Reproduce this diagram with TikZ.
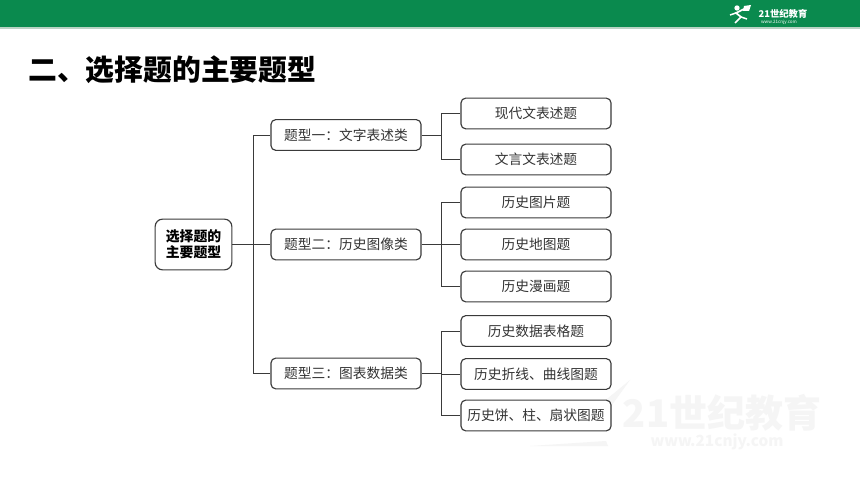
\documentclass[tikz,border=0pt]{standalone}
\usepackage{fontspec}
\setmainfont{Noto Sans CJK SC}
\definecolor{barGreen}{HTML}{0A8A4E}
\definecolor{barLine}{HTML}{B9D3C4}
\definecolor{markGray}{HTML}{F5F5F5}
\definecolor{boxLine}{HTML}{3A3A3A}
\tikzset{
    rootbox/.style={draw=boxLine, line width=0.85pt, rounded corners=5.5pt, fill=white, minimum width=57.5pt, minimum height=38pt, align=center, font=\fontsize{10.4}{12}\selectfont\bfseries, inner sep=0pt},
    typebox/.style={draw=boxLine, line width=0.85pt, rounded corners=3.5pt, fill=white, minimum width=112.5pt, minimum height=23pt, inner sep=0pt, font=\fontsize{10.3}{12}\selectfont, text=black!80},
    link/.style={draw=boxLine, line width=0.7pt}
}
\begin{document}
\begin{tikzpicture}[x=0.75pt, y=-0.75pt]
        \useasboundingbox (0,0) rectangle (860,484);
        \fill[white] (0,0) rectangle (860,484);
        \fill[barGreen] (0,0) rectangle (860,27);
        \fill[barLine] (0,27) rectangle (860,29);

        % logo in the bar
        \fill[white] (737,8) circle (2pt);
        \fill[white] (744,6) -- (751,5) -- (749,11) -- (743,11) -- cycle;
        \draw[white, line width=1.3pt] (744,9) -- (736,13) -- (741,17) -- (735,23);
        \draw[white, line width=1.1pt] (736,13) -- (730,15);
        \draw[white, line width=1.1pt] (741,17) -- (747,19);
        \node (logotext) at (783,14) [text=white, font=\fontsize{7}{7}\selectfont\bfseries\itshape, inner sep=0pt] {21世纪教育};
        \node (logoweb) at (779,22.5) [text=white, font=\fontsize{3.4}{4}\selectfont, inner sep=0pt] {www.21cnjy.com};

        % watermark
        \fill[markGray] (630,380) -- (596,408) -- (604,416) -- cycle;
        \fill[markGray] (530,446) -- (606,441) -- (608,446) -- cycle;
        \node (marktext) at (722,413) [text=markGray, font=\fontsize{28.5}{28}\selectfont\bfseries\itshape, inner sep=0pt] {21世纪教育};
        \node (markweb) at (717,442) [text=markGray, font=\fontsize{11.5}{12}\selectfont\bfseries, inner sep=0pt] {www.21cnjy.com};

        \node (title) at (28,70) [anchor=west, inner sep=0pt, font=\fontsize{21.6}{22}\selectfont\bfseries] {二、选择题的主要题型};

        \node[rootbox] (root) at (193.5,244.5) {选择题的\\主要题型};

        \node[typebox] (typeA) at (346,135) {题型一：文字表述类};
        \node[typebox] (typeB) at (346,244.5) {题型二：历史图像类};
        \node[typebox] (typeC) at (346,373.5) {题型三：图表数据类};

        \node[typebox] (itemA) at (536,113.5) {现代文表述题};
        \node[typebox] (itemB) at (536,159.5) {文言文表述题};
        \node[typebox] (itemC) at (536,202.5) {历史图片题};
        \node[typebox] (itemD) at (536,244.5) {历史地图题};
        \node[typebox] (itemE) at (536,286.5) {历史漫画题};
        \node[typebox] (itemF) at (536,331) {历史数据表格题};
        \node[typebox] (itemG) at (536,374) {历史折线、曲线图题};
        \node[typebox] (itemH) at (536,415.5) {历史饼、柱、扇状图题};

        \coordinate (forkroot) at (253,244.5);
        \coordinate (forkA) at (441,135);
        \coordinate (forkB) at (441,244.5);
        \coordinate (forkC) at (441,373.5);

        \draw[link] (root) -- (typeB);
        \foreach \t in {typeA, typeC}
            \draw[link] (forkroot) |- (\t);

        \draw[link] (typeA) -- (forkA);
        \draw[link] (typeB) -- (itemD);
        \draw[link] (typeC) -- (forkC);

        \foreach \t in {itemA, itemB}
            \draw[link] (forkA) |- (\t);
        \foreach \t in {itemC, itemE}
            \draw[link] (forkB) |- (\t);
        \foreach \t in {itemF, itemG, itemH}
            \draw[link] (forkC) |- (\t);
\end{tikzpicture}
\end{document}
